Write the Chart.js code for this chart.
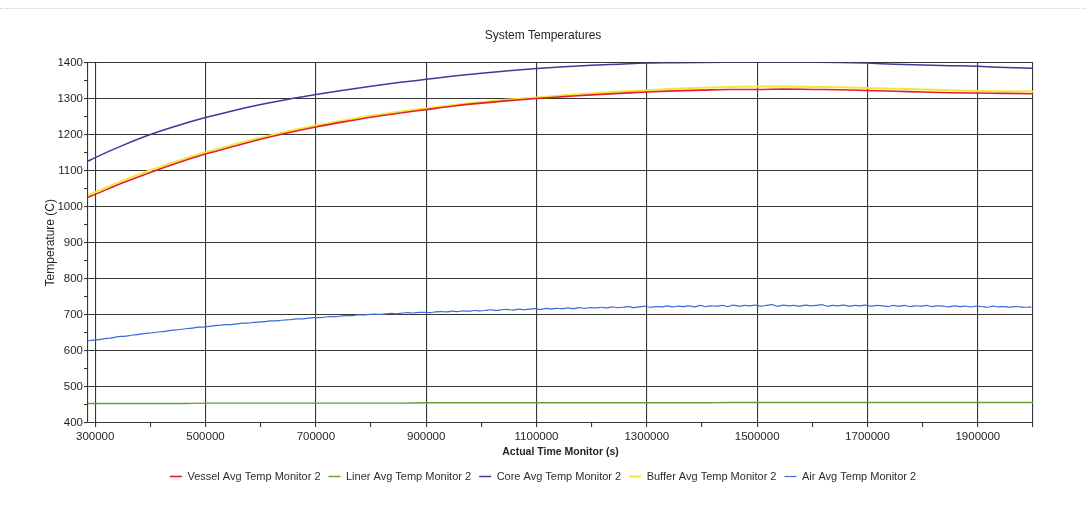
<!DOCTYPE html>
<html>
<head>
<meta charset="utf-8">
<title>System Temperatures</title>
<script src="https://cdn.jsdelivr.net/npm/chart.js@4.4.1/dist/chart.umd.min.js"></script>
<style>
  html, body { margin: 0; padding: 0; background: #fff; }
  #wrap { position: relative; width: 1086px; height: 512px; }
  #rule { position: absolute; left: 0; right: 0; top: 8px; border-top: 1px dotted #cfcfcf; }
  canvas { display: block; }
</style>
</head>
<body>
<div id="wrap">
  <div id="rule"></div>
  <canvas id="c" width="1086" height="512"></canvas>
</div>
<script>
// ---- text ----
const chartTitle = 'System Temperatures';
const xTitle = 'Actual Time Monitor (s)';
const yTitle = 'Temperature (C)';
const seriesNames = [
  'Vessel Avg Temp Monitor 2',
  'Liner Avg Temp Monitor 2',
  'Core Avg Temp Monitor 2',
  'Buffer Avg Temp Monitor 2',
  'Air Avg Temp Monitor 2'
];

// ---- sample times (s) for the smooth monitors ----
const timeSec = [287000, 300000, 350000, 400000, 450000, 500000, 550000, 600000, 650000, 700000,
  750000, 800000, 850000, 900000, 950000, 1000000, 1050000, 1100000, 1150000, 1200000,
  1250000, 1300000, 1350000, 1400000, 1450000, 1500000, 1550000, 1600000, 1650000, 1700000,
  1750000, 1800000, 1850000, 1900000, 1950000, 2000000];

// ---- temperatures (C) ----
const vesselTemp = [1026, 1034, 1066, 1095, 1122, 1146, 1167, 1187, 1205, 1221,
  1235, 1248, 1259, 1269, 1279, 1287, 1294, 1300, 1305, 1310,
  1314, 1318, 1321, 1323, 1325, 1325, 1326, 1325, 1324, 1322,
  1320, 1318, 1316, 1315, 1314, 1313];

const linerTemp = [454, 454, 454, 454, 454, 455, 455, 455, 455, 455,
  455, 455, 455, 456, 456, 456, 456, 456, 456, 456,
  456, 456, 456, 456, 457, 457, 457, 457, 457, 457,
  457, 457, 457, 457, 457, 457];

const coreTemp = [1126, 1136, 1170, 1200, 1225, 1247, 1266, 1283, 1298, 1311,
  1323, 1334, 1344, 1353, 1362, 1370, 1377, 1383, 1388, 1392,
  1395, 1398, 1399, 1400, 1401, 1401, 1401, 1401, 1400, 1398,
  1395, 1393, 1391, 1389, 1386, 1384];

const bufferTemp = [1032, 1040, 1072, 1101, 1127, 1151, 1172, 1191, 1209, 1225,
  1239, 1252, 1263, 1273, 1282, 1290, 1297, 1303, 1309, 1314,
  1319, 1323, 1327, 1330, 1332, 1333, 1333, 1332, 1331, 1329,
  1327, 1325, 1323, 1321, 1320, 1319];

// Air monitor is logged every 10000 s starting at 287000 s
const airStart = 287000;
const airStep = 10000;
const airTemp = [628, 630, 631, 634, 635, 638, 640, 641, 644, 645,
  648, 649, 651, 653, 654, 657, 658, 660, 662, 663,
  666, 666, 668, 670, 671, 673, 673, 675, 677, 677,
  679, 680, 681, 683, 683, 685, 686, 687, 689, 689,
  691, 692, 692, 694, 695, 695, 697, 698, 698, 700,
  700, 701, 702, 701, 703, 704, 703, 705, 706, 705,
  707, 707, 706, 708, 709, 708, 710, 709, 711, 710,
  712, 711, 712, 714, 712, 714, 715, 713, 716, 714,
  716, 717, 715, 718, 716, 718, 717, 719, 717, 720,
  718, 720, 719, 721, 719, 722, 720, 721, 723, 720,
  722, 724, 721, 723, 722, 725, 722, 724, 723, 725,
  722, 726, 723, 725, 724, 726, 723, 727, 724, 726,
  725, 727, 724, 726, 728, 724, 727, 725, 726, 724,
  727, 725, 726, 728, 724, 726, 725, 727, 724, 726,
  725, 727, 724, 726, 725, 723, 726, 724, 726, 723,
  725, 724, 726, 723, 725, 724, 722, 725, 723, 724,
  722, 724, 723, 721, 724, 722, 723, 721, 723, 722,
  721, 722];

// ---- axes ----
const xMin = 287000;
const xMax = 2000000;
const xTickValues = [300000, 400000, 500000, 600000, 700000, 800000, 900000, 1000000, 1100000,
  1200000, 1300000, 1400000, 1500000, 1600000, 1700000, 1800000, 1900000, 2000000];
const xLabelValues = [300000, 500000, 700000, 900000, 1100000, 1300000, 1500000, 1700000, 1900000];
const yMin = 400;
const yMax = 1400;
const yTickValues = [400, 450, 500, 550, 600, 650, 700, 750, 800, 850, 900,
  950, 1000, 1050, 1100, 1150, 1200, 1250, 1300, 1350, 1400];
const yLabelValues = [400, 500, 600, 700, 800, 900, 1000, 1100, 1200, 1300, 1400];

// ---- build point lists ----
const toPoints = (xs, ys) => ys.map((y, i) => ({ x: xs[i], y }));
const airTimes = airTemp.map((_, i) => airStart + i * airStep);

const FONT = '"Liberation Sans", Arial, sans-serif';
const INK = '#262626';
const GRID = '#363636';

const colors = {
  vessel: '#e0202c',
  liner: '#62a032',
  core: '#3b3b98',
  buffer: '#f4e63a',
  air: '#3a6bd4'
};

function line(label, data, color, width) {
  return {
    label, data,
    borderColor: color,
    backgroundColor: color,
    borderWidth: width,
    pointRadius: 0,
    pointHoverRadius: 0,
    fill: false,
    cubicInterpolationMode: 'monotone'
  };
}

// the first dataset is painted last, so the vessel trace sits over the buffer trace
const datasets = [
  line(seriesNames[0], toPoints(timeSec, vesselTemp), colors.vessel, 1.6),
  line(seriesNames[1], toPoints(timeSec, linerTemp), colors.liner, 1.4),
  line(seriesNames[2], toPoints(timeSec, coreTemp), colors.core, 1.5),
  line(seriesNames[3], toPoints(timeSec, bufferTemp), colors.buffer, 2),
  line(seriesNames[4], toPoints(airTimes, airTemp), colors.air, 1.2)
];

new Chart(document.getElementById('c'), {
  type: 'line',
  data: { datasets },
  options: {
    responsive: false,
    animation: false,
    events: [],
    layout: { padding: { left: 0, right: 0, top: 0, bottom: 20 } },
    plugins: {
      tooltip: { enabled: false },
      title: {
        display: true,
        text: chartTitle,
        color: INK,
        font: { family: FONT, size: 12, weight: 'normal' },
        padding: { top: 28, bottom: 20 }
      },
      legend: {
        position: 'bottom',
        labels: {
          usePointStyle: true,
          pointStyle: 'line',
          pointStyleWidth: 12,
          boxHeight: 10,
          color: '#2e2e2e',
          font: { family: FONT, size: 11 },
          padding: 8
        }
      }
    },
    scales: {
      x: {
        type: 'linear',
        min: xMin,
        max: xMax,
        afterBuildTicks: (s) => { s.ticks = xTickValues.map(v => ({ value: v })); },
        afterFit: (s) => { s.height = 40; },
        ticks: {
          autoSkip: false,
          maxRotation: 0,
          padding: 3,
          color: INK,
          font: { family: FONT, size: 11.5 },
          callback: (v) => xLabelValues.includes(v) ? String(v) : ''
        },
        grid: {
          color: (ctx) => (ctx.tick && (xLabelValues.includes(ctx.tick.value) || ctx.tick.value === xMax)) ? GRID : 'rgba(0,0,0,0)',
          tickColor: GRID,
          tickLength: 4,
          lineWidth: 1.1
        },
        border: { display: true, color: GRID, width: 1.1 },
        title: {
          display: true,
          text: xTitle,
          color: INK,
          font: { family: FONT, size: 10.5, weight: 'bold' },
          padding: { top: 0, bottom: 5 }
        }
      },
      y: {
        type: 'linear',
        min: yMin,
        max: yMax,
        afterBuildTicks: (s) => { s.ticks = yTickValues.map(v => ({ value: v })); },
        afterFit: (s) => { s.width = 88; },
        ticks: {
          autoSkip: false,
          padding: 1,
          color: INK,
          font: { family: FONT, size: 11.5 },
          callback: (v) => yLabelValues.includes(v) ? String(v) : ''
        },
        grid: {
          color: (ctx) => (ctx.tick && yLabelValues.includes(ctx.tick.value)) ? GRID : 'rgba(0,0,0,0)',
          tickColor: GRID,
          tickLength: 4,
          lineWidth: 1.1
        },
        border: { display: true, color: GRID, width: 1.1 },
        title: {
          display: true,
          text: yTitle,
          color: INK,
          font: { family: FONT, size: 12, weight: 'normal' },
          padding: { top: 43, bottom: 0 }
        }
      },
      // empty margin on the right of the plot
      yRight: {
        type: 'linear',
        position: 'right',
        min: yMin,
        max: yMax,
        afterFit: (s) => { s.width = 53; },
        ticks: { display: false },
        grid: { display: false, drawTicks: false },
        border: { display: false }
      }
    }
  }
});
</script>
</body>
</html>
